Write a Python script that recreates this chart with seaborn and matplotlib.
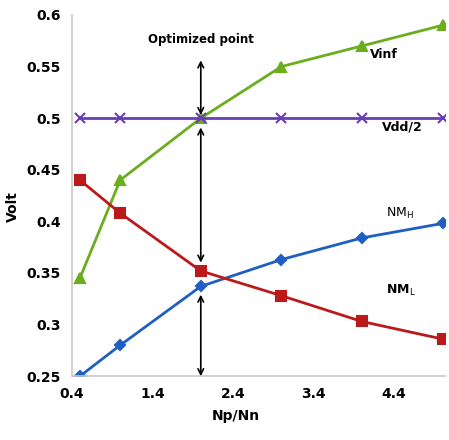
import numpy as np
import pandas as pd
import matplotlib
matplotlib.use('Agg')
import matplotlib.pyplot as plt
import seaborn as sns

# data
ratio = [0.5, 1, 2, 3, 4, 5]
vinf = [0.345, 0.44, 0.5, 0.55, 0.57, 0.59]
vdd_half = [0.5, 0.5, 0.5, 0.5, 0.5, 0.5]
nmh = [0.25, 0.28, 0.337, 0.363, 0.384, 0.398]
nml = [0.44, 0.408, 0.352, 0.328, 0.303, 0.286]
xticks = [0.4, 1.4, 2.4, 3.4, 4.4]
yticks = [0.25, 0.3, 0.35, 0.4, 0.45, 0.5, 0.55, 0.6]

sns.set_style('white')
plt.rcParams['font.family'] = ['DejaVu Sans']
plt.rcParams['mathtext.fontset'] = 'dejavusans'
plt.rcParams['text.color'] = 'black'
plt.rcParams['axes.labelcolor'] = 'black'
plt.rcParams['xtick.labelcolor'] = 'black'
plt.rcParams['ytick.labelcolor'] = 'black'

df = pd.DataFrame({'Np/Nn': ratio * 4,
                   'Volt': vinf + vdd_half + nmh + nml,
                   'series': ['Vinf'] * 6 + ['Vdd/2'] * 6 + ['NMH'] * 6 + ['NML'] * 6})

fig = plt.figure(figsize=(4.49, 4.4), dpi=100)
ax = fig.add_axes([0.16, 0.145, 0.831, 0.821])

styles = {'Vinf': ('#6aae1e', '^', 7),
          'Vdd/2': ('#6a3db5', 'x', 7),
          'NMH': ('#1f5fc4', 'D', 5),
          'NML': ('#bb1a1a', 's', 7)}
for name, (col, mk, ms) in styles.items():
    sub = df[df['series'] == name]
    sns.lineplot(data=sub, x='Np/Nn', y='Volt', color=col, marker=mk, markersize=ms,
                 markeredgecolor=col, markeredgewidth=1.5, linewidth=2, ax=ax, legend=False)

ax.set_xlim(0.4, 5.03)
ax.set_ylim(0.25, 0.6)
ax.set_xticks(xticks)
ax.set_xticklabels([str(t) for t in xticks])
ax.set_yticks(yticks)
ax.set_yticklabels(['0.25', '0.3', '0.35', '0.4', '0.45', '0.5', '0.55', '0.6'])
ax.tick_params(axis='both', direction='out', length=4, color='#c8c8c8', labelsize=10, pad=4)
for lab in ax.get_xticklabels() + ax.get_yticklabels():
    lab.set_fontweight('bold')
for s in ['top', 'right']:
    ax.spines[s].set_visible(False)
for s in ['left', 'bottom']:
    ax.spines[s].set_color('#c8c8c8')
    ax.spines[s].set_linewidth(1.2)

ax.set_xlabel('Np/Nn', fontsize=10, fontweight='bold')
ax.set_ylabel('Volt', fontsize=10, fontweight='bold')
ax.xaxis.set_label_coords(0.44, -0.09)
ax.yaxis.set_label_coords(-0.14, 0.47)

# arrows at the optimized point
arr = dict(arrowstyle='<->', color='black', lw=1.2, shrinkA=0, shrinkB=0)
ax.annotate('', xy=(2, 0.556), xytext=(2, 0.503), arrowprops=arr)
ax.annotate('', xy=(2, 0.491), xytext=(2, 0.36), arrowprops=arr)
ax.annotate('', xy=(2, 0.329), xytext=(2, 0.25), arrowprops=arr)

ax.text(2, 0.576, 'Optimized point', ha='center', va='center', fontsize=8.5, fontweight='bold')
ax.text(4.1, 0.562, 'Vinf', ha='left', va='center', fontsize=9, fontweight='bold')
ax.text(4.25, 0.491, 'Vdd/2', ha='left', va='center', fontsize=9, fontweight='bold')
ax.text(4.3, 0.408, r'NM$_{\mathrm{H}}$', ha='left', va='center', fontsize=9)
ax.text(4.3, 0.333, r'NM$_{\mathrm{L}}$', ha='left', va='center', fontsize=9, fontweight='bold')

fig.savefig('out.png', dpi=100)
